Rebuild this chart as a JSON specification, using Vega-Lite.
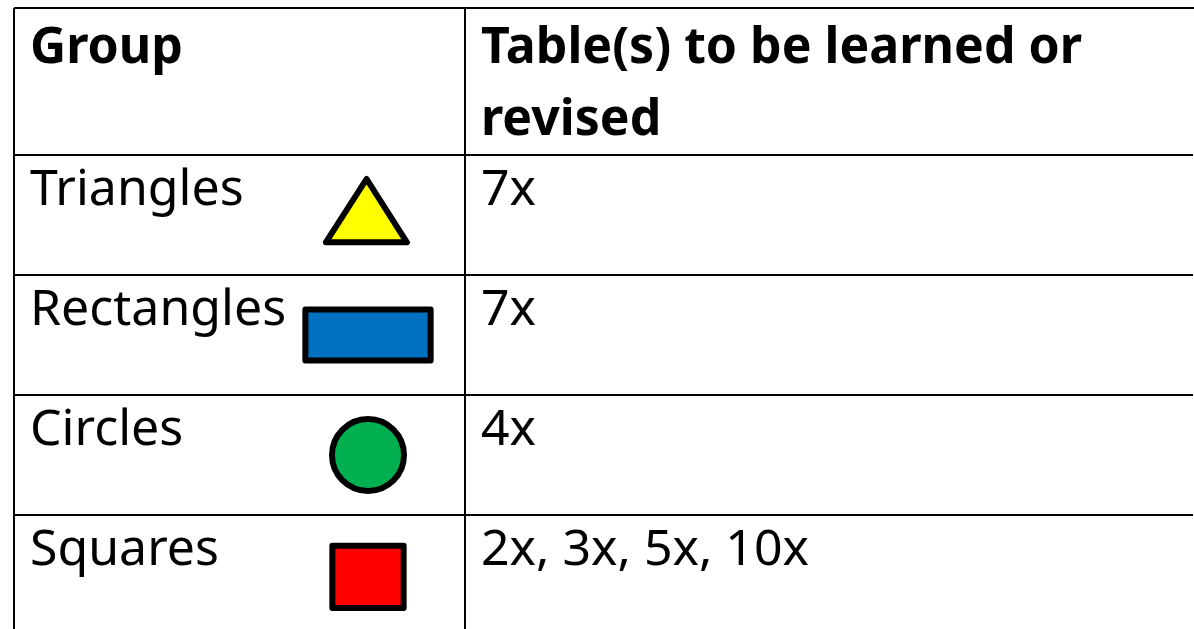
{
  "$schema": "https://vega.github.io/schema/vega-lite/v6.json",
  "width": 1194,
  "height": 629,
  "autosize": {"type": "fit", "contains": "padding"},
  "padding": 0,
  "background": "white",
  "config": {
    "view": {"stroke": null},
    "axis": {"disable": true},
    "legend": {"disable": true}
  },
  "datasets": {
    "rows": [
      {"Group": "Triangles", "Tables": "7x"},
      {"Group": "Rectangles", "Tables": "7x"},
      {"Group": "Circles", "Tables": "4x"},
      {"Group": "Squares", "Tables": "2x, 3x, 5x, 10x"}
    ],
    "header": [
      {"Group": "Header", "col": "Group", "label": "Group"},
      {"Group": "Header", "col": "Tables", "label": "Table(s) to be learned or\nrevised"}
    ],
    "cols": [
      {"col": "Group"},
      {"col": "Tables"}
    ]
  },
  "layer": [
    {
      "data": {"name": "rows"},
      "mark": {"type": "rule", "color": "black", "strokeWidth": 2, "yOffset": -50, "xOffset": -16, "x2Offset": 712},
      "encoding": {
        "y": {"field": "Group", "type": "nominal", "scale": {"type": "point", "domain": ["Header", "Triangles", "Rectangles", "Circles", "Squares"], "range": [85, 565], "padding": 0}},
        "x": {"datum": "Group", "type": "nominal", "scale": {"type": "point", "domain": ["Group", "Tables"], "range": [30, 481], "padding": 0}},
        "x2": {"datum": "Tables"}
      }
    },
    {
      "data": {"name": "header"},
      "transform": [{"filter": "datum.col === 'Group'"}],
      "mark": {"type": "rule", "color": "black", "strokeWidth": 2, "yOffset": -77, "xOffset": -16, "x2Offset": 713},
      "encoding": {
        "y": {"field": "Group", "type": "nominal"},
        "x": {"datum": "Group", "type": "nominal"},
        "x2": {"datum": "Tables"}
      }
    },
    {
      "data": {"name": "cols"},
      "mark": {"type": "rule", "color": "black", "strokeWidth": 2, "xOffset": -16, "yOffset": -77, "y2Offset": 64},
      "encoding": {
        "x": {"field": "col", "type": "nominal"},
        "y": {"datum": "Header", "type": "nominal"},
        "y2": {"datum": "Squares"}
      }
    },
    {
      "data": {"name": "header"},
      "mark": {"type": "text", "align": "left", "baseline": "alphabetic", "font": "Noto Sans", "fontSize": 50, "fontWeight": "bold", "color": "black", "dy": -22, "lineBreak": "\n", "lineHeight": 72},
      "encoding": {
        "x": {"field": "col", "type": "nominal"},
        "y": {"field": "Group", "type": "nominal"},
        "text": {"field": "label", "type": "nominal"}
      }
    },
    {
      "data": {"name": "rows"},
      "mark": {"type": "text", "align": "left", "baseline": "alphabetic", "font": "Noto Sans", "fontSize": 50, "color": "black"},
      "encoding": {
        "x": {"datum": "Group", "type": "nominal"},
        "y": {"field": "Group", "type": "nominal"},
        "text": {"field": "Group", "type": "nominal"}
      }
    },
    {
      "data": {"name": "rows"},
      "mark": {"type": "text", "align": "left", "baseline": "alphabetic", "font": "Noto Sans", "fontSize": 50, "color": "black"},
      "encoding": {
        "x": {"datum": "Tables", "type": "nominal"},
        "y": {"field": "Group", "type": "nominal"},
        "text": {"field": "Tables", "type": "nominal"}
      }
    },
    {
      "data": {"name": "rows"},
      "mark": {"type": "point", "filled": true, "opacity": 1, "size": 5184, "stroke": "black", "strokeWidth": 6, "strokeJoin": "round", "strokeOpacity": 1, "xOffset": 338, "yOffset": 10},
      "encoding": {
        "x": {"datum": "Group", "type": "nominal"},
        "y": {"field": "Group", "type": "nominal"},
        "shape": {"field": "Group", "type": "nominal", "scale": {"domain": ["Triangles", "Rectangles", "Circles", "Squares"], "range": ["M-0.04,-1L1.08,0.76L-1.17,0.76Z", "M-1.74,-0.71L1.74,-0.71L1.74,0.71L-1.74,0.71Z", "circle", "M-0.99,-0.81L0.99,-0.81L0.99,0.92L-0.99,0.92Z"]}},
        "color": {"field": "Group", "type": "nominal", "scale": {"domain": ["Triangles", "Rectangles", "Circles", "Squares"], "range": ["#FFFF00", "#0070C0", "#00B050", "#FF0000"]}}
      }
    }
  ]
}
